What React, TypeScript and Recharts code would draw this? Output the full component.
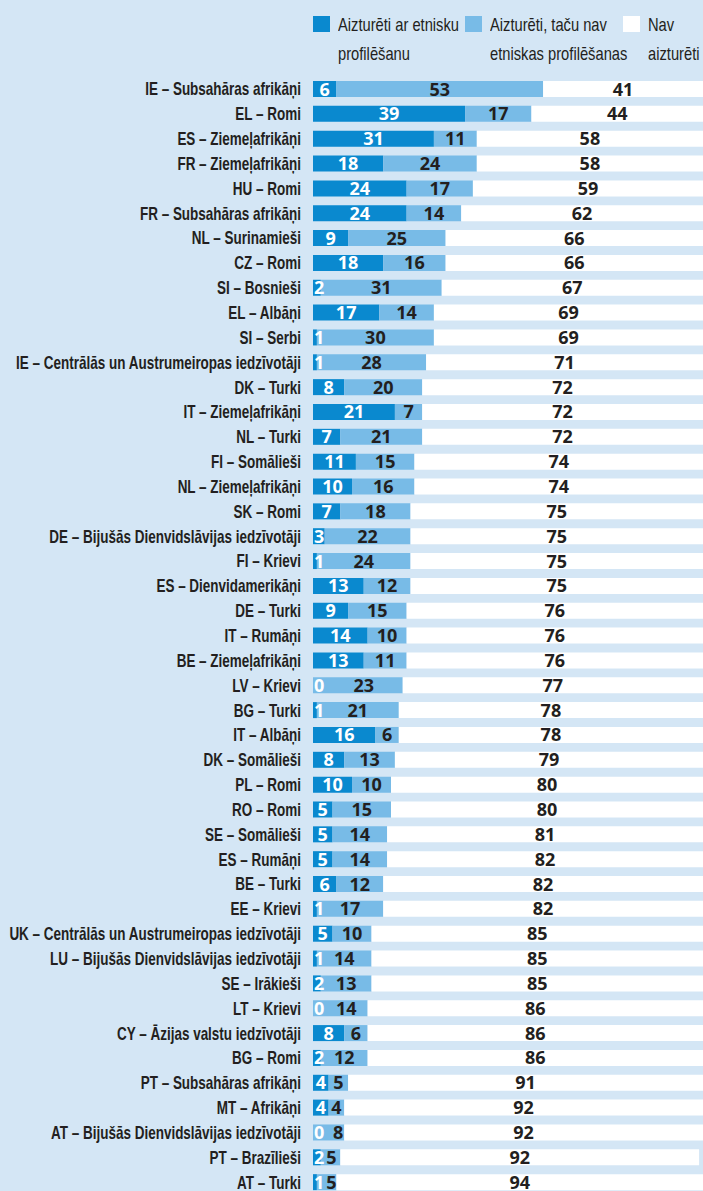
import React from 'react';
import { BarChart, Bar, XAxis, YAxis, LabelList } from 'recharts';

const CATEGORIES = [
  'IE – Subsahāras afrikāņi',
  'EL – Romi',
  'ES – Ziemeļafrikāņi',
  'FR – Ziemeļafrikāņi',
  'HU – Romi',
  'FR – Subsahāras afrikāņi',
  'NL – Surinamieši',
  'CZ – Romi',
  'SI – Bosnieši',
  'EL – Albāņi',
  'SI – Serbi',
  'IE – Centrālās un Austrumeiropas iedzīvotāji',
  'DK – Turki',
  'IT – Ziemeļafrikāņi',
  'NL – Turki',
  'FI – Somālieši',
  'NL – Ziemeļafrikāņi',
  'SK – Romi',
  'DE – Bijušās Dienvidslāvijas iedzīvotāji',
  'FI – Krievi',
  'ES – Dienvidamerikāņi',
  'DE – Turki',
  'IT – Rumāņi',
  'BE – Ziemeļafrikāņi',
  'LV – Krievi',
  'BG – Turki',
  'IT – Albāņi',
  'DK – Somālieši',
  'PL – Romi',
  'RO – Romi',
  'SE – Somālieši',
  'ES – Rumāņi',
  'BE – Turki',
  'EE – Krievi',
  'UK – Centrālās un Austrumeiropas iedzīvotāji',
  'LU – Bijušās Dienvidslāvijas iedzīvotāji',
  'SE – Irākieši',
  'LT – Krievi',
  'CY – Āzijas valstu iedzīvotāji',
  'BG – Romi',
  'PT – Subsahāras afrikāņi',
  'MT – Afrikāņi',
  'AT – Bijušās Dienvidslāvijas iedzīvotāji',
  'PT – Brazīlieši',
  'AT – Turki',
];

const WITH_PROFILING = [6, 39, 31, 18, 24, 24, 9, 18, 2, 17, 1, 1, 8, 21, 7, 11, 10, 7, 3, 1, 13, 9, 14, 13, 0, 1, 16, 8, 10, 5, 5, 5, 6, 1, 5, 1, 2, 0, 8, 2, 4, 4, 0, 2, 1];
const WITHOUT_PROFILING = [53, 17, 11, 24, 17, 14, 25, 16, 31, 14, 30, 28, 20, 7, 21, 15, 16, 18, 22, 24, 12, 15, 10, 11, 23, 21, 6, 13, 10, 15, 14, 14, 12, 17, 10, 14, 13, 14, 6, 12, 5, 4, 8, 5, 5];
const NOT_STOPPED = [41, 44, 58, 58, 59, 62, 66, 66, 67, 69, 69, 71, 72, 72, 72, 74, 74, 75, 75, 75, 75, 76, 76, 76, 77, 78, 78, 79, 80, 80, 81, 82, 82, 82, 85, 85, 85, 86, 86, 86, 91, 92, 92, 92, 94];

const LEGEND = [
  { key: 'dark', text: ['Aizturēti ar etnisku', 'profilēšanu'] },
  { key: 'light', text: ['Aizturēti, taču nav', 'etniskas profilēšanas'] },
  { key: 'white', text: ['Nav', 'aizturēti'] },
];

const DARK = '#0a89cf';
const LIGHT = '#78bbe7';
const BG = '#d4e6f5';
const TEXT = '#231f20';
const SANS = "'Liberation Sans', Arial, sans-serif";
const DIGIT_W = 10.3;
const PX_PER_UNIT = 3.9;

const data = CATEGORIES.map((name, i) => ({
  name,
  dark: WITH_PROFILING[i],
  light: WITHOUT_PROFILING[i],
  white: NOT_STOPPED[i],
}));

const box = (p: any) => {
  const vb = p.viewBox || {};
  return { x: p.x ?? vb.x, y: p.y ?? vb.y, w: p.width ?? vb.width, h: p.height ?? vb.height };
};

const valueText = (cx: number, y: number, v: any, fill: string, key?: string) => (
  <text
    key={key}
    x={cx}
    y={y}
    textAnchor="middle"
    fill={fill}
    fontFamily="'Open Sans', sans-serif"
    fontWeight={700}
    fontSize={18}
  >
    {v}
  </text>
);

const makeLabel = (kind: string) => (props: any) => {
  const { x, y, w, h } = box(props);
  const v = props.value;
  const tw = String(v).length * DIGIT_W;
  const ty = y + h / 2 + 6.5;
  if (kind === 'dark') {
    return valueText(Math.max(x + w / 2, x + tw / 2 + 1), ty, v, '#ffffff');
  }
  if (kind === 'light') {
    const d = WITH_PROFILING[props.index];
    let cx = x + w / 2;
    if (d === 0) {
      // zero-width dark segment: draw its "0" here and keep clear of it
      cx = Math.max(cx + 6, x + 20 + tw / 2);
      return (
        <g>
          {valueText(x + DIGIT_W / 2 + 1, ty, 0, '#ffffff', 'z')}
          {valueText(cx, ty, v, TEXT, 'v')}
        </g>
      );
    }
    const darkW = d * PX_PER_UNIT;
    const darkTw = String(d).length * DIGIT_W;
    const darkRight = x - darkW + Math.max(darkW / 2 + darkTw / 2, darkTw + 1);
    cx = Math.max(cx, darkRight + 2 + tw / 2);
    return valueText(cx, ty, v, TEXT);
  }
  return valueText(x + w / 2, ty, v, TEXT);
};

const CategoryTick = (props: any) => (
  <text
    transform={`translate(301, ${props.y + 6}) scale(0.771, 1)`}
    x={0}
    y={0}
    textAnchor="end"
    fill={TEXT}
    fontFamily={SANS}
    fontWeight={700}
    fontSize={17.5}
  >
    {props.payload.value}
  </text>
);

const swatch: Record<string, string> = { dark: DARK, light: LIGHT, white: '#ffffff' };
const legendPos = [
  { sq: 313, tx: 338 },
  { sq: 465, tx: 490 },
  { sq: 623, tx: 648 },
];

export default function App() {
  return (
    <div
      style={{
        position: 'absolute',
        top: 0,
        left: 0,
        width: 703,
        height: 1191,
        overflow: 'hidden',
        background: BG,
      }}
    >
      {LEGEND.map((item, i) => (
        <React.Fragment key={item.key}>
          <div
            style={{
              position: 'absolute',
              left: legendPos[i].sq,
              top: 16,
              width: 17,
              height: 16,
              background: swatch[item.key],
            }}
          />
          <div
            style={{
              position: 'absolute',
              left: legendPos[i].tx,
              top: 10,
              fontFamily: SANS,
              fontSize: 18.5,
              lineHeight: '29px',
              color: TEXT,
              whiteSpace: 'nowrap',
              transform: 'scaleX(0.795)',
              transformOrigin: 'left top',
            }}
          >
            {item.text[0]}
            <br />
            {item.text[1]}
          </div>
        </React.Fragment>
      ))}
      <div style={{ position: 'absolute', top: 0, left: 0 }}>
        <BarChart
          width={703}
          height={1195}
          data={data}
          layout="vertical"
          margin={{ top: 77, right: 0, bottom: 0, left: 0 }}
        >
          <XAxis type="number" domain={[0, 100]} allowDataOverflow hide />
          <YAxis
            type="category"
            dataKey="name"
            width={313}
            axisLine={false}
            tickLine={false}
            interval={0}
            tick={<CategoryTick />}
          />
          <Bar dataKey="dark" stackId="a" fill={DARK} barSize={16} isAnimationActive={false}>
            <LabelList dataKey="dark" content={makeLabel('dark')} />
          </Bar>
          <Bar dataKey="light" stackId="a" fill={LIGHT} barSize={16} isAnimationActive={false}>
            <LabelList dataKey="light" content={makeLabel('light')} />
          </Bar>
          <Bar dataKey="white" stackId="a" fill="#ffffff" barSize={16} isAnimationActive={false}>
            <LabelList dataKey="white" content={makeLabel('white')} />
          </Bar>
        </BarChart>
      </div>
    </div>
  );
}
